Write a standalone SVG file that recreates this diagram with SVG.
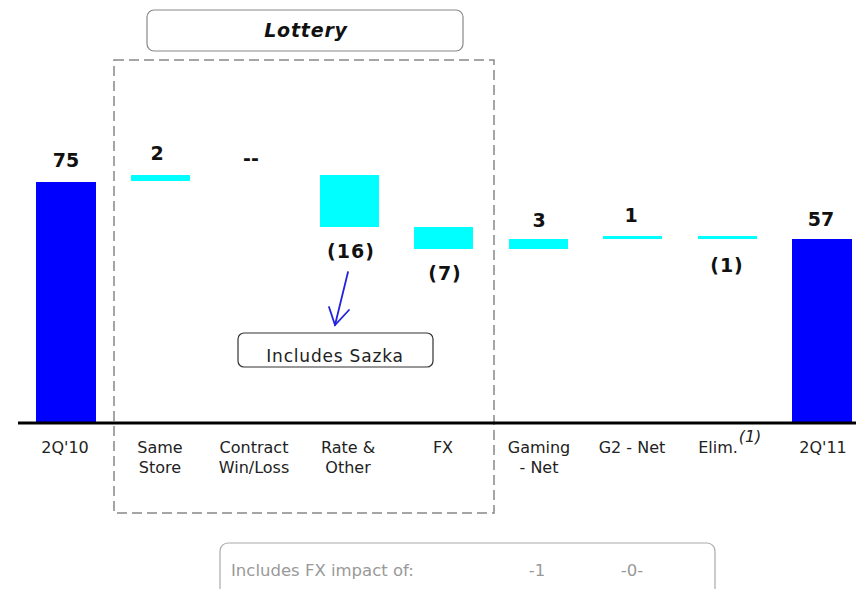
<svg xmlns="http://www.w3.org/2000/svg" width="856" height="589" viewBox="0 0 856 589">
<style>
.total{fill:#0000ff}
.delta{fill:#00ffff}
.num{font-family:"DejaVu Sans",Verdana,sans-serif;font-weight:bold;font-size:19px;fill:#111;text-anchor:middle}
.cat{font-family:"DejaVu Sans",Tahoma,sans-serif;font-size:16px;fill:#222;text-anchor:middle}
.box{fill:#fff;stroke:#333;stroke-width:1.2}
</style>
<rect width="856" height="589" fill="#fff"/>
<g id="lottery-group">
  <rect x="114" y="60" width="380" height="453" fill="none" stroke="#888" stroke-width="1.5" stroke-dasharray="10,5"/>
  <rect x="147" y="10" width="316" height="41" rx="7" fill="#fff" stroke="#888" stroke-width="1.2"/>
  <text x="306" y="37" font-family="DejaVu Sans,Verdana,sans-serif" font-weight="bold" font-style="italic" font-size="19" text-anchor="middle" fill="#111" letter-spacing="0.8">Lottery</text>
</g>
<g id="bar-2q10"><rect class="total" x="36" y="182" width="60" height="240"/><text class="num" x="66" y="167">75</text><text class="cat" x="65" y="453">2Q'10</text></g>
<g id="bar-same-store"><rect class="delta" x="131" y="175" width="59" height="6"/><text class="num" x="157" y="160">2</text><text class="cat" x="160" y="453">Same</text><text class="cat" x="160" y="473">Store</text></g>
<g id="bar-contract"><text class="num" x="251" y="165">--</text><text class="cat" x="254" y="453">Contract</text><text class="cat" x="254" y="473">Win/Loss</text></g>
<g id="bar-rate"><rect class="delta" x="320" y="175" width="59" height="52"/><text class="num" x="351" y="258" letter-spacing="1">(16)</text><text class="cat" x="348" y="453">Rate &amp;</text><text class="cat" x="348" y="473">Other</text></g>
<g id="bar-fx"><rect class="delta" x="414" y="227" width="59" height="22"/><text class="num" x="445" y="280" letter-spacing="1">(7)</text><text class="cat" x="443" y="453">FX</text></g>
<g id="bar-gaming"><rect class="delta" x="509" y="239" width="59" height="10"/><text class="num" x="539" y="227">3</text><text class="cat" x="539" y="453">Gaming</text><text class="cat" x="539" y="473">- Net</text></g>
<g id="bar-g2"><rect class="delta" x="603" y="236" width="59" height="3"/><text class="num" x="631" y="222">1</text><text class="cat" x="632" y="453">G2 - Net</text></g>
<g id="bar-elim"><rect class="delta" x="698" y="236" width="59" height="3"/><text class="num" x="727" y="272" letter-spacing="1">(1)</text><text class="cat" x="718" y="453">Elim.</text><text x="750" y="442" font-family="DejaVu Sans,sans-serif" font-style="italic" font-size="16" fill="#222" text-anchor="middle">(1)</text></g>
<g id="bar-2q11"><rect class="total" x="792" y="239" width="60" height="183"/><text class="num" x="821" y="226">57</text><text class="cat" x="823" y="453">2Q'11</text></g>
<g id="axis"><line x1="18" y1="423" x2="856" y2="423" stroke="#000" stroke-width="3"/></g>
<g id="sazka-note"><rect class="box" x="238" y="333" width="195" height="34" rx="6"/><text x="335" y="362" font-family="DejaVu Sans,Verdana,sans-serif" font-size="17" fill="#222" text-anchor="middle" letter-spacing="0.8">Includes Sazka</text></g>
<g id="connectors" fill="none" stroke="#2222dd" stroke-width="1.8" stroke-linecap="round">
  <line x1="348" y1="272" x2="335" y2="325"/>
  <polyline points="329,307 335,325 349,310"/>
</g>
<g id="fx-note"><rect x="220" y="543" width="495" height="60" rx="8" fill="#fff" stroke="#aaa" stroke-width="1.2"/>
  <g font-family="DejaVu Sans,Verdana,sans-serif" font-size="16.5" fill="#999"><text x="231" y="576">Includes FX impact of:</text><text x="537" y="576" text-anchor="middle">-1</text><text x="632" y="576" text-anchor="middle">-0-</text></g>
</g>
</svg>
